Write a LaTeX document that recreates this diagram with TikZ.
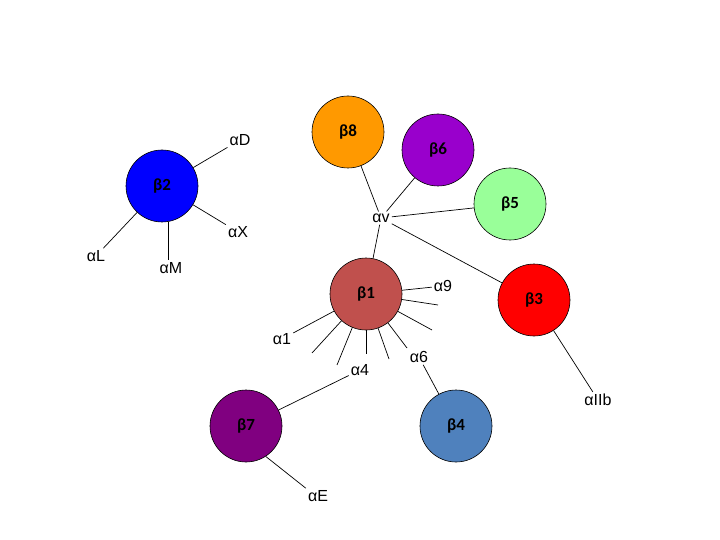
\documentclass[tikz,border=0pt]{standalone}
\usepackage{fontspec}
\setmainfont{Liberation Sans}
\newfontfamily\betafont{Carlito}
\usetikzlibrary{shapes}

\definecolor{ballorange}{RGB}{255,153,0}
\definecolor{ballviolet}{RGB}{153,0,204}
\definecolor{ballblue}{RGB}{0,0,255}
\definecolor{ballgreen}{RGB}{153,255,153}
\definecolor{ballbrick}{RGB}{192,80,77}
\definecolor{ballred}{RGB}{255,0,0}
\definecolor{ballplum}{RGB}{128,0,128}
\definecolor{ballsteel}{RGB}{79,129,189}

\tikzset{
    ball/.style={circle, draw=black, line width=0.6pt, minimum size=72pt, inner sep=0pt,
        font=\betafont\bfseries\fontsize{17}{19}\selectfont},
    lbl/.style={inner sep=2pt, font=\fontsize{16}{18}\selectfont},
    link/.style={line width=0.7pt}
}

\begin{document}
\begin{tikzpicture}[x=1pt,y=-1pt]
                \useasboundingbox (0,0) rectangle (720,540);
                \node[ball, fill=ballorange] (b8) at (348,132) {β8};
                \node[ball, fill=ballviolet] (b6) at (438,150) {β6};
                \node[ball, fill=ballblue]   (b2) at (162,186) {β2};
                \node[ball, fill=ballgreen]  (b5) at (510,204) {β5};
                \node[ball, fill=ballbrick]  (b1) at (366,294) {β1};
                \node[ball, fill=ballred]    (b3) at (534,300) {β3};
                \node[ball, fill=ballplum]   (b7) at (246,426) {β7};
                \node[ball, fill=ballsteel]  (b4) at (456,426) {β4};
                \node[lbl] (aD)   at (240,140) {αD};
                \node[lbl] (aX)   at (238,232) {αX};
                \node[lbl] (aL)   at (96,256)  {αL};
                \node[lbl] (aM)   at (171,268) {αM};
                \node[lbl] (aV)   at (381,218) {αv};
                \node[lbl] (a9)   at (443,286) {α9};
                \node[lbl] (a1)   at (282,339) {α1};
                \node[lbl] (a4)   at (360,370) {α4};
                \node[lbl] (a6)   at (419,357) {α6};
                \node[lbl] (aIIb) at (598,400) {αIIb};
                \node[lbl] (aE)   at (318,496) {αE};
                \coordinate (s1) at (438,305);
                \coordinate (s2) at (432,330);
                \coordinate (s3) at (407,348);
                \coordinate (s4) at (389,359);
                \coordinate (s5) at (366,354);
                \coordinate (s6) at (337,365);
                \coordinate (s7) at (312,353);
                \draw[link] (b2) -- (aD);
                \draw[link] (b2) -- (aX);
                \draw[link] (b2) -- (aL);
                \draw[link] (b2.-80) -- (b2.-80 |- aM.north);
                \draw[link] (b8) -- (aV);
                \draw[link] (aV) -- (b6);
                \draw[link] (aV) -- (b5);
                \draw[link] (aV) -- (b3);
                \draw[link] (aV) -- (b1);
                \draw[link] (b1) -- (a9);
                \draw[link] (b1) -- (s1);
                \draw[link] (b1) -- (s2);
                \draw[link] (b1) -- (s3);
                \draw[link] (b1) -- (s4);
                \draw[link] (b1) -- (s5);
                \draw[link] (b1) -- (s6);
                \draw[link] (b1) -- (s7);
                \draw[link] (b1) -- (a1);
                \draw[link] (b3) -- (aIIb);
                \draw[link] (b4) -- (a6);
                \draw[link] (b7) -- (a4);
                \draw[link] (b7.-57) -- (aE.north west);
            \end{tikzpicture}
\end{document}
